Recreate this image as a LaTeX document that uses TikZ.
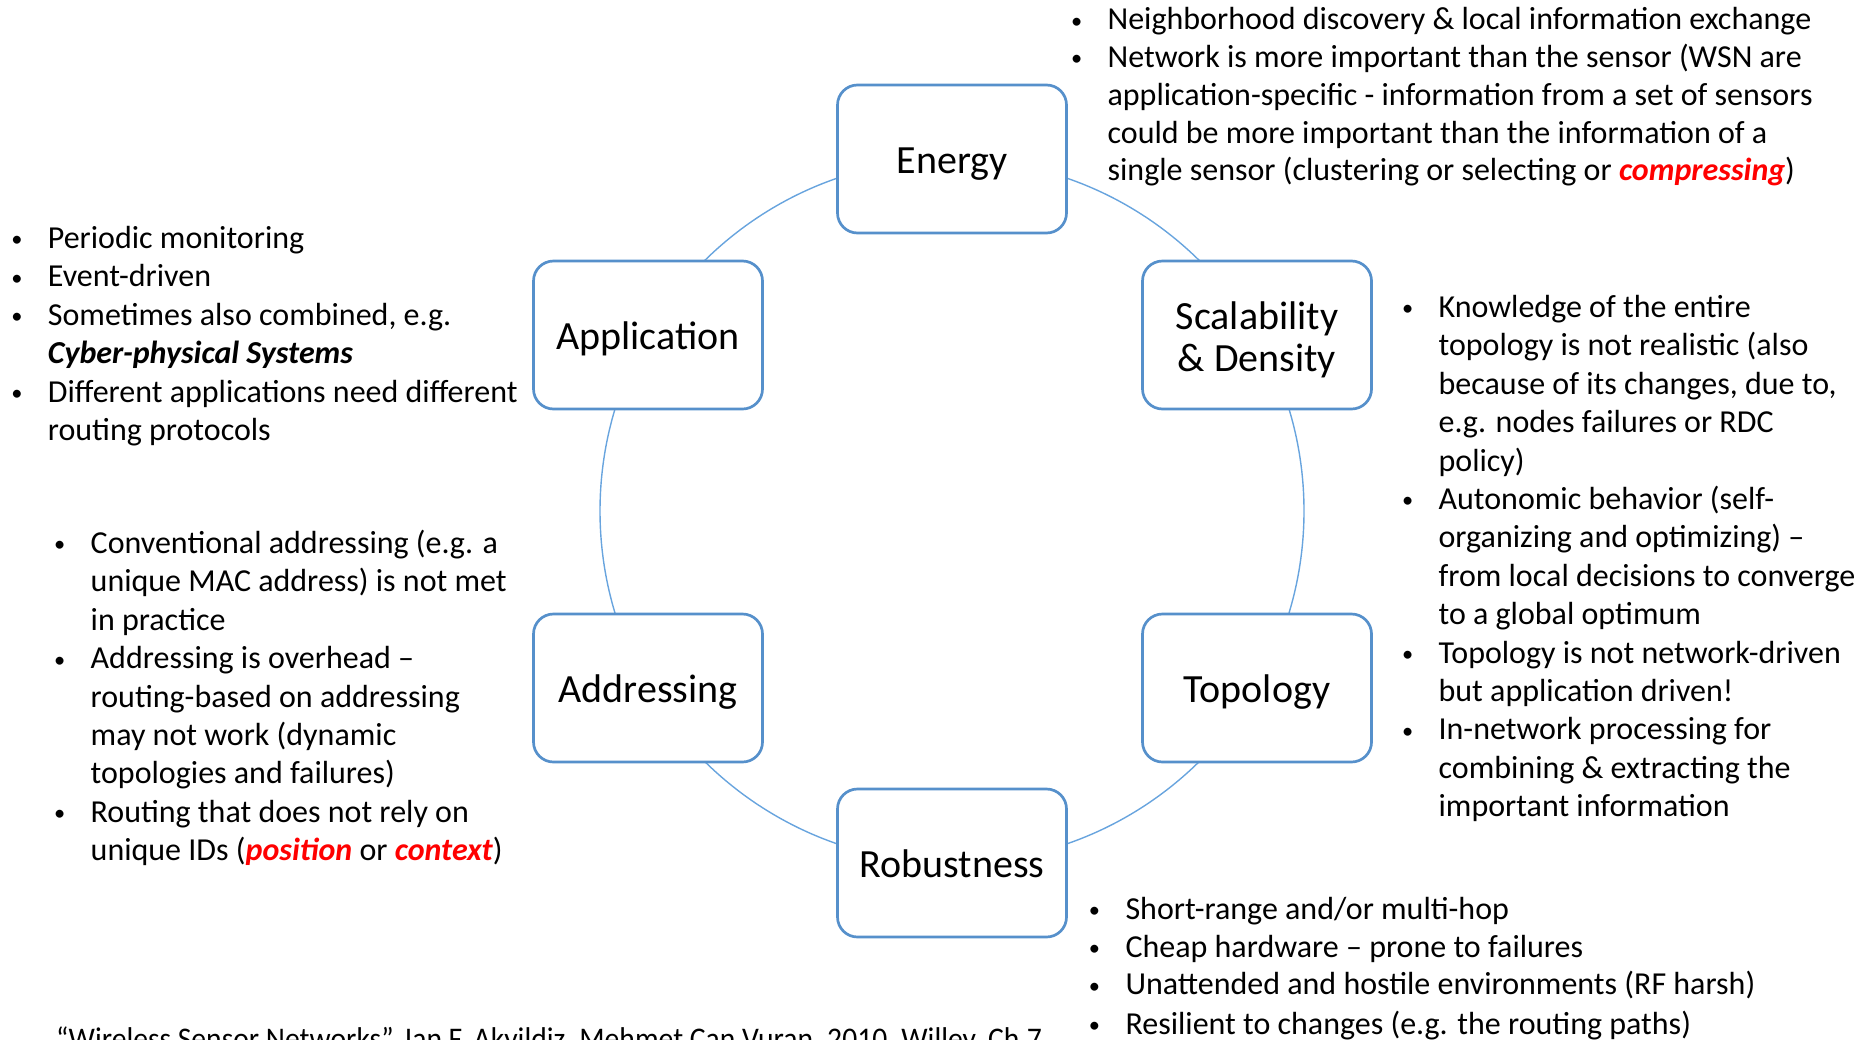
\documentclass[tikz,border=0pt]{standalone}
\usepackage{fontspec}
\setmainfont{Carlito}
\newfontfamily\narrowfont[Ligatures=TeX,FakeStretch=0.94]{Carlito}
\definecolor{boxblue}{RGB}{86,144,203}
\definecolor{ringblue}{RGB}{104,164,222}
\definecolor{accentred}{RGB}{255,0,0}
\newcommand\bodysize{\fontsize{32}{38.4}\selectfont}
\newcommand\topsize{\fontsize{32}{37.8}\selectfont}
\newcommand\citesize{\narrowfont\fontsize{31.5}{37.8}\selectfont}
% bullet centred on the node's west edge, text 31pt further right
\newcommand\dotmark{\raisebox{0.05em}{\scalebox{0.7}{\textbullet}}}
\newcommand\itm{\strut\makebox[31pt][l]{\makebox[0pt]{\dotmark}}}
\newcommand\cnt{\strut\hspace*{31pt}}
\newcommand\hot[1]{\textcolor{accentred}{\bfseries\itshape #1}}
\begin{document}
\begin{tikzpicture}[x=1pt,y=-1pt,
  topic/.style={draw=boxblue, line width=2.7pt, rounded corners=20pt, fill=white,
    minimum width=229pt, minimum height=148pt, inner sep=0pt, align=center,
    font=\fontsize{40}{42}\selectfont},
  oneline/.style={text height=28pt, text depth=0pt},
  caption/.style={inner sep=0pt, align=center, font=\fontsize{40}{42}\selectfont},
  ring/.style={draw=ringblue, line width=1.4pt},
  notes/.style={anchor=north west, inner sep=0pt, align=left, font=\bodysize},
  topnotes/.style={anchor=north west, inner sep=0pt, align=left, font=\topsize}]
\useasboundingbox (0,0) rectangle (1867,1039);

% ring through the six topics
\coordinate (hub) at (952,511);
\draw[ring] (hub) circle[radius=352];

% topic boxes
\node[topic,oneline] (energy)  at (952,159)  {Energy};
\node[topic,oneline] (app)     at (648,335)  {Application};
\node[topic] (scal) at (1257,335) {};
\node[caption] (scaltext) at ([yshift=-4.5pt]scal.center) {Scalability\\\& Density};
\node[topic,oneline] (addr)    at (648,688)  {Addressing};
\node[topic,oneline] (topo)    at (1257,688) {Topology};
\node[topic,oneline] (robust)  at (952,863)  {Robustness};

% notes
\node[topnotes] (energynotes) at (1076.4,3) {%
\itm Neighborhood discovery \& local information exchange\\
\itm Network is more important than the sensor (WSN are\\
\cnt application-specific - information from a set of sensors\\
\cnt could be more important than the information of a\\
\cnt single sensor (clustering or selecting or \hot{compressing})};

\node[notes] (appnotes) at (16.7,221.5) {%
\itm Periodic monitoring\\
\itm Event-driven\\
\itm Sometimes also combined, e.g.\\
\cnt \textbf{\textit{Cyber-physical Systems}}\\
\itm Different applications need different\\
\cnt routing protocols};

\node[notes] (addrnotes) at (59.5,526.5) {%
\itm Conventional addressing (e.g. a\\
\cnt unique MAC address) is not met\\
\cnt in practice\\
\itm Addressing is overhead –\\
\cnt routing-based on addressing\\
\cnt may not work (dynamic\\
\cnt topologies and failures)\\
\itm Routing that does not rely on\\
\cnt unique IDs (\hot{position} or \hot{context})};

\node[notes] (scalnotes) at (1407.4,290.5) {%
\itm Knowledge of the entire\\
\cnt topology is not realistic (also\\
\cnt because of its changes, due to,\\
\cnt e.g. nodes failures or RDC\\
\cnt policy)\\
\itm Autonomic behavior (self-\\
\cnt organizing and optimizing) –\\
\cnt from local decisions to converge\\
\cnt to a global optimum\\
\itm Topology is not network-driven\\
\cnt but application driven!\\
\itm In-network processing for\\
\cnt combining \& extracting the\\
\cnt important information};

\node[topnotes] (robustnotes) at (1094.3,892.6) {%
\itm Short-range and/or multi-hop\\
\itm Cheap hardware – prone to failures\\
\itm Unattended and hostile environments (RF harsh)\\[1.5pt]
\itm Resilient to changes (e.g. the routing paths)};

\node[anchor=base west, inner sep=0pt, font=\citesize] (source) at (56,1049.5)
  {“Wireless Sensor Networks”, Ian F. Akyildiz, Mehmet Can Vuran, 2010, Willey, Ch.7};
\end{tikzpicture}
\end{document}
